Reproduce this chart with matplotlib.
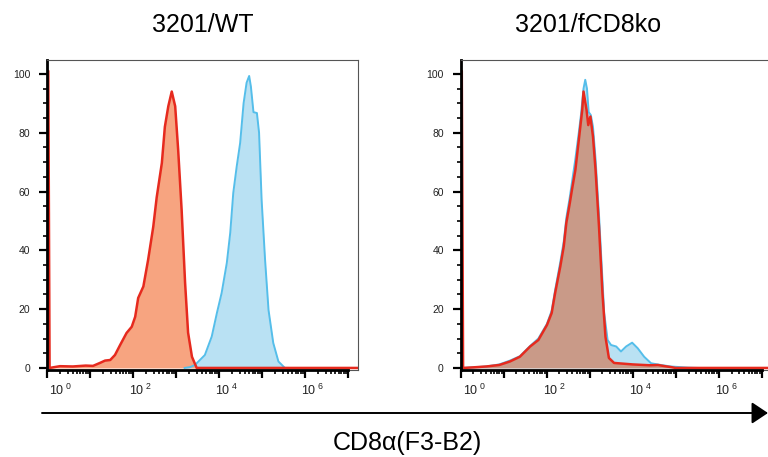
import numpy as np
import matplotlib
matplotlib.use("Agg")
import matplotlib.pyplot as plt
from matplotlib.patches import FancyArrowPatch
from matplotlib.transforms import ScaledTranslation

plt.rcParams['font.family'] = ['Liberation Sans', 'DejaVu Sans']
plt.rcParams['mathtext.fontset'] = 'custom'
plt.rcParams['mathtext.rm'] = 'Liberation Sans'

# histogrammes : x en log10(intensite), y en % du max
wt_ctrl_x = [0.0, 0.03, 0.06, 0.3, 0.6, 0.9, 1.07, 1.23, 1.35, 1.47, 1.58, 1.70, 1.85, 1.97,
             2.05, 2.12, 2.24, 2.35, 2.47, 2.55, 2.67, 2.74, 2.82, 2.90, 2.98, 3.05, 3.13,
             3.21, 3.28, 3.37, 3.48, 7.3]
wt_ctrl_y = [101, 101, 0, 0.6, 0.5, 0.8, 0.7, 1.7, 2.5, 2.7, 4.4, 7.8, 11.9, 14,
             17.4, 23.8, 27.7, 36.7, 48, 58, 69.7, 82, 89, 94, 89, 74, 53.7,
             29, 12, 3.8, 0, 0]

wt_cd8_x = [3.2, 3.33, 3.44, 3.67, 3.83, 3.95, 4.06, 4.18, 4.26, 4.33, 4.41, 4.49, 4.57,
            4.64, 4.70, 4.74, 4.80, 4.88, 4.93, 4.99, 5.07, 5.15, 5.26, 5.38, 5.53, 5.6]
wt_cd8_y = [0, 0.3, 1, 4.4, 10.7, 18.7, 25.5, 35.7, 46, 59.5, 68.5, 76.5, 90,
            97, 99.3, 95.7, 87, 86.7, 80, 57, 36.7, 19.7, 8.5, 2.2, 0, 0]

ko_ctrl_x = [0.0, 0.03, 0.06, 0.3, 0.6, 0.9, 1.15, 1.38, 1.62, 1.81, 2.01, 2.12, 2.20,
             2.32, 2.40, 2.46, 2.54, 2.59, 2.67, 2.75, 2.83, 2.86, 2.93, 2.97, 3.02, 3.08,
             3.14, 3.22, 3.30, 3.37, 3.45, 3.57, 4.0, 4.4, 4.59, 4.75, 4.89, 5.0, 7.3]
ko_ctrl_y = [101, 101, 0, 0.2, 0.5, 1.0, 2.2, 3.8, 7.3, 9.5, 14.6, 18.7, 25.5,
             34.5, 41.3, 49.3, 56, 60.5, 67.3, 77.5, 87.8, 94, 87.8, 82.6, 85.5, 78.7,
             67.3, 48, 25.5, 10.6, 3.4, 1.7, 1.2, 0.9, 1.0, 0.6, 0.3, 0, 0]

ko_cd8_x = [0.06, 0.6, 0.9, 1.15, 1.38, 1.62, 1.81, 2.01, 2.12, 2.20, 2.32, 2.40, 2.46,
            2.54, 2.59, 2.67, 2.75, 2.80, 2.86, 2.90, 2.94, 2.98, 3.03, 3.08, 3.14, 3.22,
            3.30, 3.34, 3.42, 3.50, 3.62, 3.73, 3.85, 3.99, 4.12, 4.27, 4.43, 4.66, 4.89,
            5.29, 5.5]
ko_cd8_y = [0, 0.5, 1.2, 2.5, 4.0, 7.5, 10, 15, 19.5, 26.5, 36, 43, 51,
            58, 63, 71, 80, 86, 95, 98, 95, 87, 86, 82, 71, 52,
            30, 18.7, 9.5, 7.8, 7.3, 5.6, 7.3, 8.6, 6.7, 3.8, 1.6, 1.0, 0.5,
            0.1, 0]

titles = ["3201/WT", "3201/fCD8ko"]
xticks_lbl = [0, 2, 4, 6]

RED = '#E62A1E'
SALMON = '#F7A480'
BLUE = '#55BEEA'
LBLUE = '#B9E1F3'
BROWN = '#C99A88'

fig = plt.figure(figsize=(7.68, 4.57), dpi=100)
W, H = 768, 457


def make_ax(left_px):
    ax = fig.add_axes([left_px / W, 1 - 370 / H, 311 / W, (370 - 59.5) / H])
    ax.set_xscale('log')
    ax.set_xlim(1, 10 ** 7.23)
    ax.set_ylim(-0.7, 104.9)
    ax.set_yticks(np.arange(0, 101, 20))
    ax.set_yticks(np.arange(0, 101, 5), minor=True)
    ax.set_xticks([10.0 ** k for k in range(8)])
    ax.set_xticklabels([r'$\mathregular{10^{\ %d}}$' % k if k in xticks_lbl else '' for k in range(8)])
    ax.xaxis.set_minor_locator(matplotlib.ticker.LogLocator(base=10, subs=np.arange(2, 10), numticks=20))
    ax.xaxis.set_minor_formatter(matplotlib.ticker.NullFormatter())
    ax.tick_params(axis='both', which='major', length=6, width=1.6, color='black',
                   labelsize=7.5, labelcolor='#222222')
    ax.tick_params(axis='both', which='minor', length=3, width=1.2, color='black')
    ax.tick_params(axis='y', which='major', pad=6)
    ax.tick_params(axis='x', which='major', pad=3, labelsize=9)
    for i, lab in enumerate(ax.get_xticklabels()):
        dx = 14 if i == 0 else 8
        lab.set_transform(lab.get_transform() + ScaledTranslation(dx / 100, 0, fig.dpi_scale_trans))
    ax.spines['left'].set_linewidth(2)
    ax.spines['bottom'].set_linewidth(2)
    ax.spines['bottom'].set_bounds(1, 1e7)
    for s in ['top', 'right']:
        ax.spines[s].set_linewidth(0.8)
        ax.spines[s].set_color('#555555')
    ax.axhline(-0.7, color='#555555', lw=0.8, clip_on=False, zorder=0)
    return ax


ax1 = make_ax(47)
x = 10 ** np.array(wt_cd8_x)
ax1.fill_between(x, wt_cd8_y, color=LBLUE, lw=0)
ax1.plot(x, wt_cd8_y, color=BLUE, lw=1.4)
x = 10 ** np.array(wt_ctrl_x)
ax1.fill_between(x, wt_ctrl_y, color=SALMON, lw=0)
ax1.plot(x, wt_ctrl_y, color=RED, lw=1.8)
ax1.set_title(titles[0], fontsize=18, pad=20)

ax2 = make_ax(460.5)
x = 10 ** np.array(ko_cd8_x)
ax2.fill_between(x, ko_cd8_y, color=LBLUE, lw=0)
ax2.plot(x, ko_cd8_y, color=BLUE, lw=1.4)
x = 10 ** np.array(ko_ctrl_x)
ax2.fill_between(x, ko_ctrl_y, color=BROWN, lw=0)
ax2.plot(x, ko_ctrl_y, color=RED, lw=1.8)
ax2.set_title(titles[1], fontsize=18, pad=20, x=(588 - 460.5) / 311)

# fleche d'axe commune
arr = FancyArrowPatch((42 / W, 1 - 413 / H), (768 / W, 1 - 413 / H), transform=fig.transFigure,
                      arrowstyle='-|>,head_length=0.45,head_width=0.3', mutation_scale=22,
                      color='black', lw=1.4, shrinkA=0, shrinkB=0)
fig.patches.append(arr)
fig.text(407 / W, 1 - 443 / H, "CD8α(F3-B2)", fontsize=18, ha='center', va='center')

fig.savefig("out.png", dpi=100)
